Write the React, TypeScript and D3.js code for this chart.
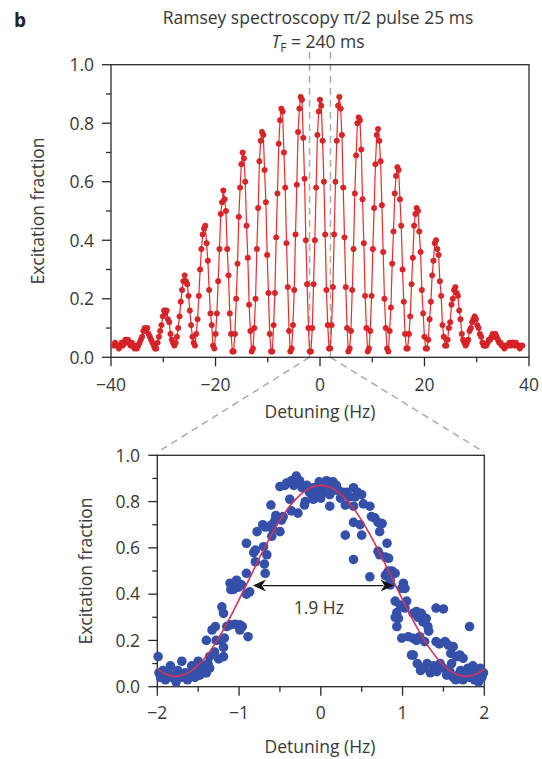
import React from 'react';
import * as d3 from 'd3';

// ---------- Top panel: Ramsey fringes (red) ----------
const TOP_DETUNING_START = -39.47; // Hz, first sample
const TOP_DETUNING_STEP = 0.2467; // Hz, sample spacing
const TOP_FRACTION = [
  0.04, 0.05, 0.04,
  0.04, 0.03, 0.04, 0.05, 0.04, 0.05, 0.06, 0.05, 0.06, 0.05, 0.04, 0.05, 0.04, 0.03, 0.04,
  0.03, 0.04, 0.05, 0.06, 0.07, 0.09, 0.10, 0.09, 0.10, 0.08, 0.07, 0.06, 0.05, 0.04, 0.03,
  0.03, 0.05, 0.07, 0.09, 0.11, 0.14, 0.16, 0.15, 0.16, 0.13, 0.12, 0.08, 0.06, 0.05, 0.04,
  0.05, 0.07, 0.10, 0.14, 0.19, 0.23, 0.26, 0.28, 0.26, 0.25, 0.21, 0.16, 0.11, 0.07, 0.05,
  0.04, 0.08, 0.13, 0.21, 0.30, 0.37, 0.42, 0.44, 0.45, 0.39, 0.33, 0.23, 0.15, 0.11, 0.04,
  0.03, 0.08, 0.15, 0.26, 0.37, 0.49, 0.53, 0.57, 0.54, 0.50, 0.37, 0.28, 0.15, 0.08, 0.02,
  0.02, 0.08, 0.20, 0.32, 0.48, 0.58, 0.66, 0.70, 0.68, 0.60, 0.45, 0.34, 0.18, 0.09, 0.02,
  0.03, 0.10, 0.20, 0.37, 0.51, 0.67, 0.74, 0.77, 0.76, 0.64, 0.53, 0.35, 0.22, 0.08, 0.02,
  0.02, 0.11, 0.22, 0.41, 0.56, 0.73, 0.81, 0.85, 0.84, 0.70, 0.58, 0.39, 0.24, 0.09, 0.02,
  0.03, 0.11, 0.23, 0.42, 0.59, 0.77, 0.85, 0.89, 0.88, 0.75, 0.61, 0.40, 0.25, 0.10, 0.02,
  0.02, 0.10, 0.25, 0.40, 0.58, 0.76, 0.84, 0.88, 0.86, 0.74, 0.60, 0.42, 0.23, 0.11, 0.03,
  0.03, 0.11, 0.24, 0.42, 0.60, 0.74, 0.86, 0.89, 0.85, 0.76, 0.58, 0.41, 0.24, 0.10, 0.02,
  0.03, 0.09, 0.23, 0.37, 0.56, 0.69, 0.80, 0.82, 0.81, 0.71, 0.54, 0.39, 0.21, 0.10, 0.02,
  0.03, 0.09, 0.21, 0.37, 0.51, 0.66, 0.76, 0.78, 0.74, 0.67, 0.52, 0.36, 0.20, 0.10, 0.03,
  0.02, 0.09, 0.17, 0.32, 0.43, 0.56, 0.62, 0.65, 0.64, 0.54, 0.45, 0.30, 0.19, 0.08, 0.03,
  0.03, 0.08, 0.14, 0.25, 0.34, 0.45, 0.49, 0.51, 0.50, 0.43, 0.36, 0.23, 0.15, 0.07, 0.03,
  0.03, 0.06, 0.13, 0.19, 0.28, 0.33, 0.39, 0.40, 0.37, 0.35, 0.26, 0.21, 0.11, 0.07, 0.04,
  0.04, 0.06, 0.10, 0.12, 0.18, 0.20, 0.23, 0.24, 0.22, 0.21, 0.16, 0.13, 0.08, 0.06, 0.05,
  0.04, 0.05, 0.06, 0.09, 0.10, 0.12, 0.13, 0.14, 0.13, 0.11, 0.10, 0.08, 0.07, 0.05, 0.04,
  0.04, 0.04, 0.05, 0.06, 0.06, 0.07, 0.08, 0.07, 0.08, 0.07, 0.06, 0.05, 0.05, 0.04, 0.04,
  0.03, 0.04, 0.04, 0.04, 0.05, 0.04, 0.05, 0.05, 0.04, 0.05, 0.04, 0.04, 0.03, 0.04, 0.04,
];
const TOP_X_MAJOR = [-40, -20, 0, 20, 40];
const TOP_X_MINOR = [-30, -10, 10, 30];
const Y_MAJOR = [0, 0.2, 0.4, 0.6, 0.8, 1.0];
const Y_MINOR = [0.1, 0.3, 0.5, 0.7, 0.9];
const ZOOM_WINDOW = [-2, 2];

// ---------- Bottom panel: zoom on central fringe (blue) ----------
const BOTTOM_DETUNING = [
  -1.99, -1.98, -1.96, -1.93, -1.9, -1.87, -1.84, -1.82, -1.8, -1.77, -1.75, -1.72, -1.7, -1.68, -1.66,
  -1.63, -1.6, -1.58, -1.56, -1.54, -1.52, -1.5, -1.48, -1.46, -1.44, -1.42, -1.4, -1.38, -1.36,
  -1.4, -1.36, -1.33, -1.3, -1.29, -1.28, -1.25, -1.22, -1.21, -1.19, -1.19, -1.19, -1.18, -1.15,
  -1.11, -1.11, -1.1, -1.07, -1.05, -1.03, -1.01, -0.99, -0.99, -0.97, -0.96, -0.91, -0.91, -0.91,
  -0.89, -0.87,
  -0.82, -0.8, -0.8, -0.78, -0.71, -0.7, -0.69, -0.68, -0.68, -0.66, -0.61, -0.6, -0.6, -0.59,
  -0.56, -0.55, -0.5, -0.48, -0.46, -0.5, -0.44,
  -0.42, -0.38, -0.36, -0.36, -0.33, -0.3, -0.28, -0.26, -0.23, -0.2, -0.19, -0.17, -0.14, -0.11,
  -0.09, -0.09, -0.07, -0.05, -0.02, 0, 0.01, 0.03, 0.05, 0.07, 0.09, 0.11, 0.11, 0.13, 0.15,
  0.17, 0.19, 0.21, 0.24, 0.27, 0.3, 0.32, 0.35, 0.4, 0.42, 0.45, 0.5, 0.52, 0.4,
  0.3, 0.4, 0.48, 0.5, 0.4, 0.6, 0.62, 0.66, 0.7, 0.72, 0.75, 0.6, 0.7, 0.72, 0.79, 0.81, 0.83,
  0.79, 0.81, 0.83, 0.85, 0.87, 0.91, 0.85,
  0.91, 0.91, 0.93, 0.93, 0.95, 0.97, 0.99, 0.99, 1.01, 1.03, 1.03, 1.05, 1.07, 1.11, 1.13, 1.13,
  1.17, 1.17, 1.19, 1.21, 1.23, 1.25, 1.27, 1.29, 1.31, 1.32, 1.13,
  1.41, 1.5, 1.41, 1.45, 1.52, 1.56, 1.59, 1.62, 1.66, 1.7, 1.74, 1.82, 1.18, 1.22, 1.26, 1.3,
  1.34, 1.38, 1.42, 1.46, 1.5, 1.54, 1.58, 1.62, 1.65, 1.68, 1.71, 1.74, 1.77, 1.8, 1.82, 1.85,
  1.88, 1.9, 1.92, 1.95, 1.97, 1.99, 1.6, 1.86, 1.93,
];
const BOTTOM_FRACTION = [
  0.13, 0.06, 0.04, 0.07, 0.03, 0.06, 0.09, 0.04, 0.05, 0.02, 0.07, 0.04, 0.11, 0.04, 0.06,
  0.03, 0.06, 0.09, 0.07, 0.04, 0.06, 0.11, 0.05, 0.08, 0.09, 0.06, 0.06, 0.1, 0.08,
  0.2, 0.13, 0.245, 0.15, 0.26, 0.2, 0.12, 0.2, 0.345, 0.317, 0.17, 0.13, 0.21, 0.26,
  0.267, 0.447, 0.42, 0.42, 0.27, 0.46, 0.43, 0.267, 0.245, 0.44, 0.26, 0.4, 0.49, 0.62,
  0.216, 0.41,
  0.58, 0.54, 0.59, 0.67, 0.7, 0.605, 0.53, 0.49, 0.69, 0.57, 0.785, 0.7, 0.65, 0.68,
  0.72, 0.74, 0.67, 0.72, 0.735, 0.865, 0.87,
  0.88, 0.81, 0.89, 0.76, 0.87, 0.91, 0.75, 0.89, 0.86, 0.785, 0.8, 0.87, 0.84, 0.83,
  0.86, 0.81, 0.835, 0.86, 0.885, 0.815, 0.88, 0.84, 0.87, 0.89, 0.885, 0.83, 0.78, 0.86, 0.885,
  0.85, 0.87, 0.85, 0.815, 0.84, 0.785, 0.84, 0.82, 0.86, 0.82, 0.84, 0.83, 0.79, 0.78,
  0.655, 0.71, 0.7, 0.655, 0.55, 0.78, 0.735, 0.73, 0.71, 0.67, 0.705, 0.475, 0.585, 0.57, 0.56, 0.62, 0.555,
  0.48, 0.49, 0.5, 0.44, 0.5, 0.49, 0.46,
  0.37, 0.3, 0.32, 0.26, 0.295, 0.353, 0.425, 0.21, 0.447, 0.34, 0.425, 0.37, 0.216, 0.137, 0.317, 0.209,
  0.325, 0.2, 0.3, 0.216, 0.317, 0.28, 0.195, 0.295, 0.26, 0.24, 0.137,
  0.34, 0.336, 0.195, 0.185, 0.195, 0.18, 0.144, 0.173, 0.13, 0.137, 0.123, 0.26, 0.1, 0.07, 0.08, 0.1,
  0.06, 0.09, 0.065, 0.1, 0.08, 0.05, 0.065, 0.04, 0.03, 0.05, 0.07, 0.03, 0.05, 0.08, 0.04, 0.06,
  0.03, 0.07, 0.05, 0.08, 0.04, 0.06, 0.1, 0.09, 0.02,
];
const FIT_DETUNING = [
  -2.0, -1.9, -1.8, -1.7, -1.6, -1.5, -1.4, -1.3, -1.2, -1.1, -1.0, -0.9, -0.8, -0.7, -0.6, -0.5,
  -0.4, -0.3, -0.2, -0.1, 0.0, 0.1, 0.2, 0.3, 0.4, 0.5, 0.6, 0.7, 0.8, 0.9, 1.0, 1.1, 1.2, 1.3,
  1.4, 1.5, 1.6, 1.7, 1.8, 1.9, 2.0,
];
const FIT_FRACTION = [
  0.077, 0.055, 0.045, 0.049, 0.065, 0.093, 0.133, 0.182, 0.241, 0.306, 0.376, 0.448, 0.521, 0.592,
  0.658, 0.719, 0.771, 0.813, 0.844, 0.864, 0.87, 0.864, 0.844, 0.813, 0.771, 0.719, 0.658, 0.592,
  0.521, 0.448, 0.376, 0.306, 0.241, 0.182, 0.133, 0.093, 0.065, 0.049, 0.045, 0.055, 0.077,
];
const BOTTOM_X_MAJOR = [-2, -1, 0, 1, 2];
const BOTTOM_X_MINOR = [-1.5, -0.5, 0.5, 1.5];
const WIDTH_ARROW = [-0.83, 0.89];
const WIDTH_ARROW_LEVEL = 0.437;
const WIDTH_LABEL = '1.9 Hz';

const TEXT = '#383838';
const AXIS = '#2a2a2a';
const FONT = "'Open Sans', 'Noto Sans', sans-serif";

function fmtX(v: number) {
  return v < 0 ? '\u2212' + Math.abs(v) : String(v);
}

export default function App() {
  const xT = d3.scaleLinear().domain([-40, 40]).range([111, 529]);
  const yT = d3.scaleLinear().domain([0, 1]).range([357.3, 64.7]);
  const xB = d3.scaleLinear().domain([-2, 2]).range([157.3, 484.3]);
  const yB = d3.scaleLinear().domain([0, 1]).range([686.7, 455.3]);

  const topPts = TOP_FRACTION.map((v, i) => [TOP_DETUNING_START + i * TOP_DETUNING_STEP, v] as [number, number]);
  const topLine = d3.line<[number, number]>().x(d => xT(d[0])).y(d => yT(d[1]))(topPts) || '';

  const fitPts = FIT_DETUNING.map((x, i) => [x, FIT_FRACTION[i]] as [number, number]);
  const fitLine = d3.line<[number, number]>().x(d => xB(d[0])).y(d => yB(d[1])).curve(d3.curveCatmullRom)(fitPts) || '';

  const fs = 17.5;

  const renderAxes = (
    xs: d3.ScaleLinear<number, number>,
    ys: d3.ScaleLinear<number, number>,
    xMajor: number[],
    xMinor: number[],
    labelY: number,
    labelX: number,
  ) => {
    const [x0, x1] = xs.range();
    const [y0, y1] = ys.range();
    return (
      <g>
        <rect x={x0} y={y1} width={x1 - x0} height={y0 - y1} fill="none" stroke={AXIS} strokeWidth={1.3} />
        {xMajor.map(t => (
          <g key={'xM' + t}>
            <line x1={xs(t)} x2={xs(t)} y1={y0} y2={y0 + 9} stroke={AXIS} strokeWidth={1.3} />
            <text x={xs(t)} y={labelY} textAnchor="middle" fontSize={fs} fill={TEXT}>{fmtX(t)}</text>
          </g>
        ))}
        {xMinor.map(t => (
          <line key={'xm' + t} x1={xs(t)} x2={xs(t)} y1={y0} y2={y0 + 5} stroke={AXIS} strokeWidth={1.3} />
        ))}
        {Y_MAJOR.map(t => (
          <g key={'yM' + t}>
            <line x1={x0 - 9} x2={x0} y1={ys(t)} y2={ys(t)} stroke={AXIS} strokeWidth={1.3} />
            <text x={labelX} y={ys(t)} dy="0.36em" textAnchor="end" fontSize={fs} fill={TEXT}>{t.toFixed(1)}</text>
          </g>
        ))}
        {Y_MINOR.map(t => (
          <line key={'ym' + t} x1={x0 - 5} x2={x0} y1={ys(t)} y2={ys(t)} stroke={AXIS} strokeWidth={1.3} />
        ))}
      </g>
    );
  };

  const dashStyle = { stroke: '#b0b0b0', strokeWidth: 1.6, strokeDasharray: '7,5', fill: 'none' };
  const zl = xT(ZOOM_WINDOW[0]);
  const zr = xT(ZOOM_WINDOW[1]);
  const [bx0, bx1] = xB.range();
  const bTop = yB.range()[1];

  const ax1 = xB(WIDTH_ARROW[0]);
  const ax2 = xB(WIDTH_ARROW[1]);
  const ay = yB(WIDTH_ARROW_LEVEL);

  return (
    <svg width={542} height={759} style={{ position: 'absolute', left: 0, top: 0, background: '#fff' }} fontFamily={FONT}>
      {/* panel letter and title */}
      <text x={14} y={27} fontSize={19} fontWeight="bold" fill="#222">b</text>
      <text x={318} y={24} textAnchor="middle" fontSize={17.5} fill={TEXT}>Ramsey spectroscopy π/2 pulse 25 ms</text>
      <text x={318} y={48} textAnchor="middle" fontSize={17.5} fill={TEXT}>
        <tspan fontStyle="italic">T</tspan>
        <tspan fontSize={12} dy={4}>F</tspan>
        <tspan dy={-4}> = 240 ms</tspan>
      </text>

      {/* zoom guide lines */}
      <line x1={zl} x2={zl} y1={52} y2={yT(0)} style={dashStyle} />
      <line x1={zr} x2={zr} y1={52} y2={yT(0)} style={dashStyle} />
      <line x1={zl} y1={yT(0)} x2={bx0} y2={bTop - 3} style={dashStyle} />
      <line x1={zr} y1={yT(0)} x2={bx1} y2={bTop - 3} style={dashStyle} />

      {/* top panel */}
      {renderAxes(xT, yT, TOP_X_MAJOR, TOP_X_MINOR, 391, 94)}
      <path d={topLine} fill="none" stroke="#ee2b2b" strokeWidth={1.2} />
      {topPts.map((d, i) => (
        <circle key={i} cx={xT(d[0])} cy={yT(d[1])} r={2.7} fill="#dd2529" stroke="#c41d20" strokeWidth={0.6} />
      ))}
      <text x={320} y={418} textAnchor="middle" fontSize={fs} fill={TEXT}>Detuning (Hz)</text>
      <text transform={`translate(44,${(yT(0) + yT(1)) / 2}) rotate(-90)`} textAnchor="middle" fontSize={fs} fill={TEXT}>Excitation fraction</text>

      {/* bottom panel */}
      {renderAxes(xB, yB, BOTTOM_X_MAJOR, BOTTOM_X_MINOR, 719, 140)}
      {BOTTOM_DETUNING.map((x, i) => (
        <circle key={i} cx={xB(x)} cy={yB(BOTTOM_FRACTION[i])} r={4.8} fill="#3550a8" />
      ))}
      <path d={fitLine} fill="none" stroke="#d4325a" strokeWidth={1.6} />
      <line x1={ax1 + 10} x2={ax2 - 10} y1={ay} y2={ay} stroke="#111" strokeWidth={1.3} />
      <path d={`M${ax1},${ay} L${ax1 + 13},${ay - 6} L${ax1 + 9},${ay} L${ax1 + 13},${ay + 6} Z`} fill="#111" />
      <path d={`M${ax2},${ay} L${ax2 - 13},${ay - 6} L${ax2 - 9},${ay} L${ax2 - 13},${ay + 6} Z`} fill="#111" />
      <text x={xB(0) - 2} y={ay + 28} textAnchor="middle" fontSize={fs} fill={TEXT}>{WIDTH_LABEL}</text>
      <text x={320} y={753} textAnchor="middle" fontSize={fs} fill={TEXT}>Detuning (Hz)</text>
      <text transform={`translate(92,${(yB(0) + yB(1)) / 2}) rotate(-90)`} textAnchor="middle" fontSize={fs} fill={TEXT}>Excitation fraction</text>
    </svg>
  );
}
